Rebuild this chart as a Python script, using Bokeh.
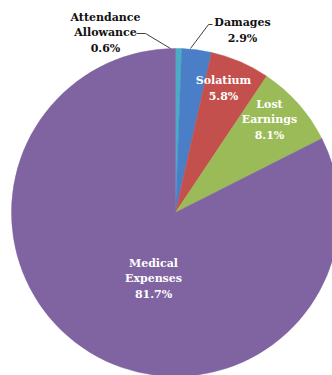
import math
from bokeh.plotting import figure
from bokeh.models import Range1d, ColumnDataSource
from bokeh.core.properties import value
from bokeh.embed import file_html
from bokeh.resources import INLINE

# ---- data ----
categories = ["Attendance Allowance", "Damages", "Solatium", "Lost Earnings", "Medical Expenses"]
shares = [0.6, 2.9, 5.8, 8.1, 81.7]
label_lines = [["Attendance", "Allowance", "0.6%"],
               ["Damages", "2.9%"],
               ["Solatium", "5.8%"],
               ["Lost", "Earnings", "8.1%"],
               ["Medical", "Expenses", "81.7%"]]

# ---- styles / layout ----
colors = ["#4bacc6", "#4a7ec6", "#c3504d", "#9bbb59", "#8064a2"]
text_colors = ["#111111", "#111111", "white", "white", "white"]
W, H = 332, 375
cx, cy, R = 175, 163, 164
# label block centers (offset from pie centre, px) and line spacing
label_pos = [(-70, 180), (67, 182), (48, 124), (94, 93), (-22, -66)]
line_gap = 15.5

p = figure(width=W, height=H, output_backend="svg", toolbar_location=None,
           x_range=Range1d(0, W), y_range=Range1d(0, H), min_border=0)
p.axis.visible = False
p.grid.visible = False
p.outline_line_color = None
p.background_fill_color = "white"

total = sum(shares)
starts, ends = [], []
acc = 0.0
for s in shares:
    a0 = math.pi / 2 - 2 * math.pi * acc / total
    acc += s
    a1 = math.pi / 2 - 2 * math.pi * acc / total
    starts.append(a0)
    ends.append(a1)

src = ColumnDataSource(dict(x=[cx] * len(shares), y=[cy] * len(shares),
                            start=starts, end=ends, color=colors))
p.wedge(x="x", y="y", radius=R, start_angle="start", end_angle="end",
        direction="clock", fill_color="color", line_color="color", line_width=0.5,
        source=src)

# leader lines
p.line([cx - 39, cx - 30, cx - 5], [cy + 179, cy + 179, cy + 164], line_color="#404040", line_width=1)
p.line([cx + 37, cx + 33, cx + 15], [cy + 188, cy + 188, cy + 164], line_color="#404040", line_width=1)

tx, ty, tt, tc = [], [], [], []
for lines, (dx, dy), col in zip(label_lines, label_pos, text_colors):
    n = len(lines)
    for i, ln in enumerate(lines):
        tx.append(cx + dx)
        ty.append(cy + dy + (n - 1) / 2 * line_gap - i * line_gap)
        tt.append(ln)
        tc.append(col)
p.text(x=tx, y=ty, text=tt, text_color=tc, text_align="center", text_baseline="middle",
       text_font=value("DejaVu Serif"), text_font_style="bold", text_font_size="11px")

open("out.html", "w").write(file_html(p, INLINE))
